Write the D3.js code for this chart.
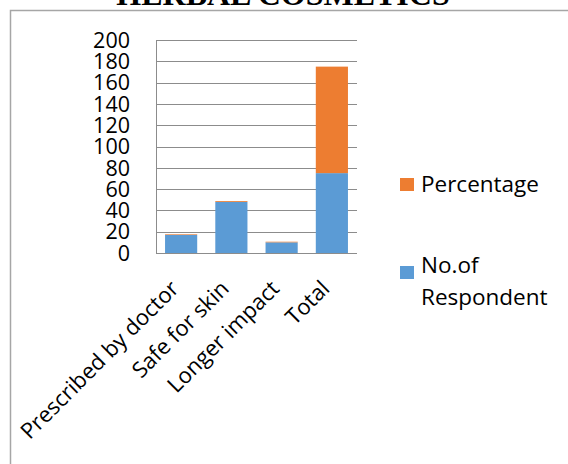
<!DOCTYPE html>
<html><head><meta charset="utf-8">
<script src="https://cdn.jsdelivr.net/npm/d3@7"></script>
<style>body{margin:0;background:#fff}</style>
</head><body>
<script>
const categories = ["Prescribed by doctor", "Safe for skin", "Longer impact", "Total"];
const respondents = [17, 48, 10, 75];
const percentages = [0.6, 0.8, 0.6, 100];
const seriesNames = ["No.of Respondent", "Percentage"];
const colors = ["#5b9bd5", "#ed7d31"];
const yTicks = [0, 20, 40, 60, 80, 100, 120, 140, 160, 180, 200];

(function () {
const W = 568, H = 464;
const svg = d3.select("body").append("svg").attr("width", W).attr("height", H);

svg.append("rect").attr("x", 10.5).attr("y", 10.5).attr("width", 600).attr("height", 500)
  .attr("fill", "none").attr("stroke", "#a6a6a6").attr("stroke-width", 1.5);

svg.append("text").attr("x", 283).attr("y", 5).attr("text-anchor", "middle")
  .attr("font-family", "Liberation Serif, Times New Roman, serif").attr("font-weight", "bold")
  .attr("font-size", 32).text("HERBAL COSMETICS");

const pl = 156, pr = 357, pt = 40, pb = 253;
const x = d3.scaleBand().domain(categories).range([pl, pr]).paddingInner(0.36).paddingOuter(0.18);
const y = d3.scaleLinear().domain([0, 200]).range([pb, pt]);

svg.append("g").selectAll("line").data(yTicks).join("line")
  .attr("x1", pl).attr("x2", pr)
  .attr("y1", d => Math.round(y(d)) + 0.5).attr("y2", d => Math.round(y(d)) + 0.5)
  .attr("stroke", "#8c8c8c").attr("stroke-width", 1);

const data = categories.map((c, i) => ({cat: c, "No.of Respondent": respondents[i], "Percentage": percentages[i]}));
const stack = d3.stack().keys(seriesNames)(data);

svg.append("g").selectAll("g").data(stack).join("g")
  .attr("fill", (d, i) => colors[i])
  .selectAll("rect").data(d => d).join("rect")
  .attr("x", d => x(d.data.cat)).attr("width", x.bandwidth())
  .attr("y", d => y(d[1])).attr("height", d => y(d[0]) - y(d[1]));

svg.append("line").attr("x1", pl + 0.5).attr("x2", pl + 0.5).attr("y1", pt).attr("y2", pb + 1)
  .attr("stroke", "#8c8c8c");
svg.append("line").attr("x1", pl).attr("x2", pr).attr("y1", pb + 0.5).attr("y2", pb + 0.5)
  .attr("stroke", "#8c8c8c");

const font = "'Open Sans', Lato, sans-serif";

svg.append("g").selectAll("text").data(yTicks).join("text")
  .attr("x", 130).attr("y", d => y(d)).attr("dy", "0.36em").attr("text-anchor", "end")
  .attr("font-family", font).attr("font-size", 21.5).attr("fill", "#000").text(d => d);

svg.append("g").selectAll("text").data(categories).join("text")
  .attr("text-anchor", "end")
  .attr("transform", d => `translate(${x(d) + x.bandwidth() / 2 - 1},${pb + 37}) rotate(-45)`)
  .attr("font-family", font).attr("font-size", 22).attr("fill", "#000").text(d => d);

const leg = svg.append("g");
leg.append("rect").attr("x", 400).attr("y", 178).attr("width", 14).attr("height", 13).attr("fill", colors[1]);
leg.append("text").attr("x", 421).attr("y", 192).attr("font-family", font).attr("font-size", 22.5).text("Percentage");
leg.append("rect").attr("x", 400).attr("y", 266).attr("width", 14).attr("height", 13).attr("fill", colors[0]);
leg.append("text").attr("x", 421).attr("y", 273).attr("font-family", font).attr("font-size", 22.5).text("No.of");
leg.append("text").attr("x", 421).attr("y", 305).attr("font-family", font).attr("font-size", 22.5).text("Respondent");
})();
</script>
</body></html>
